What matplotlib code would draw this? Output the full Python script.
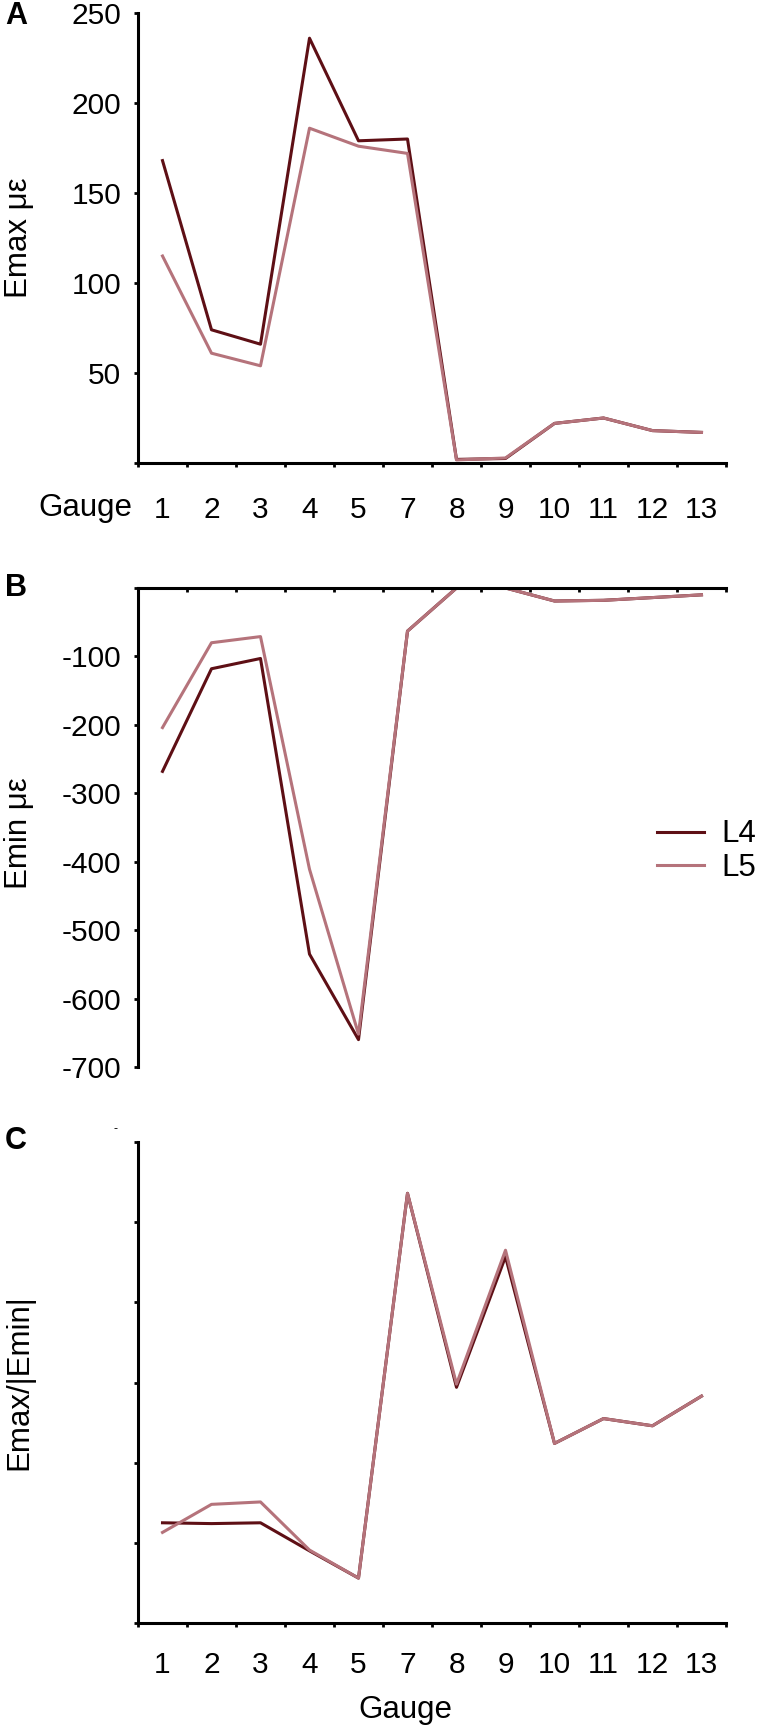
import matplotlib
matplotlib.use('Agg')
import numpy as np
from matplotlib import pyplot as plt

plt.rcParams['font.family'] = ['Liberation Sans', 'DejaVu Sans']

gauges = ['1', '2', '3', '4', '5', '7', '8', '9', '10', '11', '12', '13']

emax_l4 = [168, 74, 66, 236, 179, 180, 2, 2.5, 22, 25, 18, 17]
emax_l5 = [115, 61, 54, 186, 176, 172, 1.7, 2.8, 22, 25, 18, 17]

emin_l4 = [-268, -118, -103, -535, -660, -63, 0, 0, -19, -18, -14, -10]
emin_l5 = [-204, -80, -71, -411, -652, -63, 0, 0, -19, -18, -14, -10]

ratio_l4 = [1.25, 1.24, 1.25, 0.90, 0.56, 5.36, 2.94, 4.57, 2.24, 2.55, 2.46, 2.83]
ratio_l5 = [1.13, 1.48, 1.51, 0.91, 0.56, 5.36, 2.98, 4.65, 2.24, 2.55, 2.46, 2.83]

dark = '#5e0f15'
light = '#b5737b'
fs = 21.5
fs_lab = 22.5

W, H = 757, 1728
fig = plt.figure(figsize=(W / 100, H / 100), dpi=100)


def box(top, bottom, left=138, right=726):
    return [left / W, 1 - bottom / H, (right - left) / W, (bottom - top) / H]


ax_a = fig.add_axes(box(13, 463))
ax_b = fig.add_axes(box(588, 1067))
ax_c = fig.add_axes(box(1142, 1623))

x = np.arange(len(gauges))


def style(ax):
    for s in ax.spines.values():
        s.set_linewidth(2.2)
    ax.set_xlim(-0.5, len(gauges) - 0.5)
    ax.set_xticks(np.arange(-0.5, len(gauges), 1.0))
    ax.set_xticklabels([])
    ax.set_xticks(x, minor=True)
    ax.tick_params(axis='both', which='major', length=3, width=2, direction='out',
                   labelsize=fs, colors='black')
    ax.tick_params(axis='x', which='minor', length=0, labelsize=fs)
    ax.tick_params(axis='y', which='major', pad=9)


# Panel A
ax_a.plot(x, emax_l4, color=dark, lw=2.2)
ax_a.plot(x, emax_l5, color=light, lw=2.2)
style(ax_a)
ax_a.spines['top'].set_visible(False)
ax_a.spines['right'].set_visible(False)
ax_a.set_ylim(0, 250)
ax_a.set_yticks([0, 50, 100, 150, 200, 250])
ax_a.set_yticklabels(['', '50', '100', '150', '200', '250'])
ax_a.set_xticklabels(gauges, minor=True)
ax_a.tick_params(axis='x', which='minor', pad=24)

# Panel B
ax_b.plot(x, emin_l4, color=dark, lw=2.2, label='L4')
ax_b.plot(x, emin_l5, color=light, lw=2.2, label='L5')
style(ax_b)
ax_b.spines['bottom'].set_visible(False)
ax_b.spines['right'].set_visible(False)
ax_b.xaxis.set_ticks_position('top')
ax_b.tick_params(axis='x', which='major', direction='in')
ax_b.set_ylim(-700, 0)
ax_b.set_yticks([-700, -600, -500, -400, -300, -200, -100, 0])
ax_b.set_yticklabels(['-700', '-600', '-500', '-400', '-300', '-200', '-100', ''])

# Panel C
ax_c.plot(x, ratio_l4, color=dark, lw=2.2)
ax_c.plot(x, ratio_l5, color=light, lw=2.2)
style(ax_c)
ax_c.spines['top'].set_visible(False)
ax_c.spines['right'].set_visible(False)
ax_c.set_ylim(0, 6)
ax_c.set_yticks(np.arange(0, 7))
ax_c.set_yticklabels([])
ax_c.set_xticklabels(gauges, minor=True)
ax_c.tick_params(axis='x', which='minor', pad=20)

# axis titles
fig.text(19 / W, 1 - 238 / H, 'Emax με', fontsize=fs_lab, rotation=90, ha='center', va='center')
fig.text(19 / W, 1 - 833 / H, 'Emin με', fontsize=fs_lab, rotation=90, ha='center', va='center')
fig.text(19 / W, 1 - 1382 / H, 'Emax/|Emin|', fontsize=fs_lab, rotation=90, ha='center', va='center')
fig.text(132 / W, 1 - 508 / H, 'Gauge', fontsize=fs_lab, ha='right', va='center')
fig.text(405 / W, 1 - 1710 / H, 'Gauge', fontsize=fs_lab, ha='center', va='center')

fig.legend(loc='center left', bbox_to_anchor=(657 / W, 1 - 851 / H), frameon=False,
           fontsize=fs_lab, handlelength=1.5, handletextpad=0.55, labelspacing=0.1,
           borderpad=0, borderaxespad=0)

for lab, yy in (('A', 16), ('B', 588), ('C', 1141)):
    fig.text(5 / W, 1 - yy / H, lab, fontsize=22, fontweight='bold', ha='left', va='center')
fig.text(116 / W, 1 - 1129 / H, '-', fontsize=9, ha='center', va='center')

fig.savefig('out.png', dpi=100)
